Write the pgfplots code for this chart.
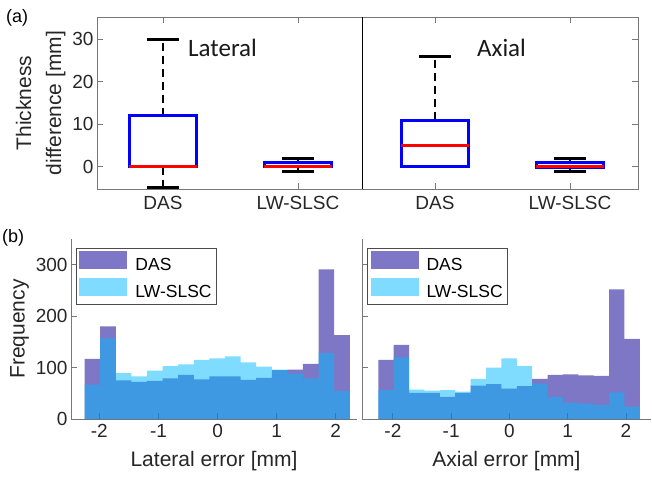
\documentclass[border=0pt]{standalone}
\usepackage{pgfplots}
\pgfplotsset{compat=1.18}
\usepgfplotslibrary{statistics}
\usepackage{fontspec}
\setmainfont{Liberation Sans}
\newfontfamily\calibri{Carlito}

\definecolor{dascol}{RGB}{40,28,160}
\definecolor{lwcol}{RGB}{0,185,255}
\definecolor{axgray}{RGB}{120,120,120}

\newcommand{\tickfont}{\fontsize{19}{21}\selectfont}
\newcommand{\labfont}{\fontsize{21}{30}\selectfont}

\pgfplotsset{
  common/.style={
    scale only axis,
    anchor=south west,
    /pgf/number format/assume math mode=true,
    axis line style={axgray, line width=0.8pt},
    tick style={axgray, line width=0.8pt},
    major tick length=6pt,
    tick align=inside,
    tick label style={font=\tickfont, text=black!85},
    label style={font=\labfont, text=black!85},
  },
  boxes/.style={
    common,
    height=172pt,
    ymin=-5.3, ymax=35.3,
    ytick={0,10,20,30},
    xtick={1,2},
    xticklabels={DAS,LW-SLSC},
    xticklabel style={yshift=-4pt},
    xtick pos=both,
    boxplot/draw direction=y,
    boxplot/box extend=0.5,
    boxplot/whisker extend=0.24,
    boxplot/every box/.style={draw=blue, line width=3pt},
    boxplot/every median/.style={draw=red, line width=2.5pt},
    boxplot/draw/lower whisker/.code={%
      \draw[black, line width=2.5pt, dash pattern=on 8pt off 5pt]
        (boxplot cs:\pgfplotsboxplotvalue{lower quartile}) --
        (boxplot cs:\pgfplotsboxplotvalue{lower whisker});
      \draw[black, line width=3pt]
        (boxplot whisker cs:\pgfplotsboxplotvalue{lower whisker},0) --
        (boxplot whisker cs:\pgfplotsboxplotvalue{lower whisker},1);
    },
    boxplot/draw/upper whisker/.code={%
      \draw[black, line width=2.5pt, dash pattern=on 8pt off 5pt]
        (boxplot cs:\pgfplotsboxplotvalue{upper quartile}) --
        (boxplot cs:\pgfplotsboxplotvalue{upper whisker});
      \draw[black, line width=3pt]
        (boxplot whisker cs:\pgfplotsboxplotvalue{upper whisker},0) --
        (boxplot whisker cs:\pgfplotsboxplotvalue{upper whisker},1);
    },
  },
  hists/.style={
    common,
    height=180pt,
    ymin=0, ymax=350,
    ytick={0,100,200,300},
    xtick={-2,-1,0,1,2},
    xticklabel style={yshift=-2pt},
    xlabel style={yshift=-6pt},
    axis lines*=left,
    legend cell align=left,
    legend style={at={(0.018,0.95)}, anchor=north west,
      draw=black!70, line width=0.6pt, font=\fontsize{17.5}{19}\selectfont,
      inner sep=3pt, row sep=4pt,
      /tikz/every odd column/.append style={column sep=6pt}},
    legend image code/.code={\fill[##1] (0pt,-4pt) rectangle (48pt,14pt);},
  },
  das/.style={ybar interval, fill=dascol, fill opacity=0.6, draw=none},
  lw/.style={ybar interval, fill=lwcol, fill opacity=0.5, draw=none},
}

% histogram counts per bin (left bin edges, last row closes the final bin)
\pgfplotstableread{
x       das  lw
-2.250  117  67
-1.986  180  157
-1.722  75   89
-1.458  72   83
-1.194  74   94
-0.930  79   103
-0.666  86   106
-0.402  77   115
-0.138  83   118
0.126   83   122
0.390   76   110
0.654   80   102
0.918   95   96
1.182   96   88
1.446   107  79
1.710   291  128
1.974   163  54
2.238   163  54
}\lateral
\pgfplotstableread{
x       das  lw
-2.250  115  56
-1.986  144  120
-1.722  51   57
-1.458  51   55
-1.194  43   56
-0.930  51   53
-0.666  65   78
-0.402  68   100
-0.138  59   118
0.126   64   103
0.390   78   69
0.654   86   43
0.918   87   32
1.182   85   30
1.446   84   27
1.710   252  52
1.974   156  24
2.238   156  24
}\axial

\begin{document}
\begin{tikzpicture}
\useasboundingbox (0pt,0pt) rectangle (652pt,480pt);

% (a) lateral
\begin{axis}[boxes, at={(97pt,291pt)}, width=265pt,
  xmin=0.511, xmax=2.474, ytick pos=left,
  ylabel={Thickness\\difference [mm]}, ylabel style={align=center}]
  \addplot[boxplot prepared={draw position=1, median=0, lower quartile=0,
    upper quartile=12, lower whisker=-5, upper whisker=30}] coordinates {};
  \addplot[boxplot prepared={draw position=2, median=0, lower quartile=-0.1,
    upper quartile=0.9, lower whisker=-1.2, upper whisker=2}] coordinates {};
  \draw[black, line width=0.8pt] (rel axis cs:1,0) -- (rel axis cs:1,1);
\end{axis}

% (a) axial
\begin{axis}[boxes, at={(362pt,291pt)}, width=276pt,
  xmin=0.46, xmax=2.504, ytick pos=right, yticklabels={}]
  \addplot[boxplot prepared={draw position=1, median=5, lower quartile=0,
    upper quartile=10.9, lower whisker=0, upper whisker=26}] coordinates {};
  \addplot[boxplot prepared={draw position=2, median=0, lower quartile=-0.2,
    upper quartile=1, lower whisker=-1.2, upper whisker=2}] coordinates {};
  \draw[black, line width=0.8pt] (rel axis cs:0,0) -- (rel axis cs:0,1);
\end{axis}

\node[anchor=base west, inner sep=0, font=\calibri\fontsize{25}{27}\selectfont, text=black!90] at (188pt,423pt) {Lateral};
\node[anchor=base west, inner sep=0, font=\calibri\fontsize{25}{27}\selectfont, text=black!90] at (477pt,423pt) {Axial};
\node[anchor=north west, inner sep=0, font=\fontsize{18}{20}\selectfont] at (6pt,471pt) {(a)};
\node[anchor=north west, inner sep=0, font=\fontsize{18}{20}\selectfont] at (2pt,251pt) {(b)};

% (b) lateral
\begin{axis}[hists, at={(71pt,61pt)}, width=286pt,
  xmin=-2.48, xmax=2.36,
  xlabel={Lateral error [mm]}, ylabel={Frequency}]
  \addplot[das] table[x=x, y=das] {\lateral};
  \addplot[lw] table[x=x, y=lw] {\lateral};
  \legend{DAS, LW-SLSC}
\end{axis}

% (b) axial
\begin{axis}[hists, at={(362pt,61pt)}, width=289pt,
  xmin=-2.53, xmax=2.43, yticklabels={},
  xlabel={Axial error [mm]}]
  \addplot[das] table[x=x, y=das] {\axial};
  \addplot[lw] table[x=x, y=lw] {\axial};
  \legend{DAS, LW-SLSC}
\end{axis}
\end{tikzpicture}
\end{document}
